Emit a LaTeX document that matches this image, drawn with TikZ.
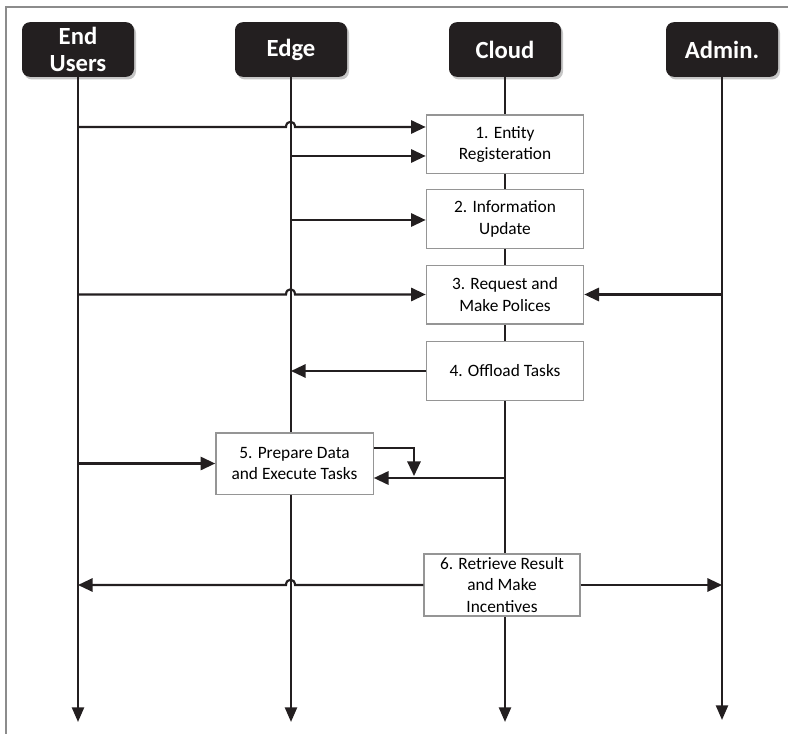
\documentclass[tikz,border=0pt]{standalone}
\usepackage{fontspec}
\setmainfont{Carlito}
\usetikzlibrary{arrows.meta,shadows}

\definecolor{headfill}{HTML}{231F20}
\definecolor{boxline}{HTML}{959595}
\definecolor{frameline}{HTML}{8C8C8C}

\tikzset{
  actor/.style={rounded corners=6pt, fill=headfill, text=white, align=center,
    minimum width=84pt, minimum height=41pt, inner sep=1pt,
    font=\fontsize{18.5}{20.5}\selectfont\bfseries,
    drop shadow={opacity=0.45, shadow xshift=1.5pt, shadow yshift=-2pt}},
  stepbox/.style={draw=boxline, line width=1pt, fill=white, align=center,
    minimum width=118pt, minimum height=44pt, inner sep=1pt,
    font=\fontsize{13}{16}\selectfont},
  life/.style={line width=1.8pt, headfill, -{Triangle[length=11pt,width=9pt]}},
  msg/.style={line width=1.6pt, headfill, -{Triangle[length=11pt,width=10pt]}}
}

\begin{document}
\begin{tikzpicture}[x=0.75pt, y=-0.75pt]
    \useasboundingbox (0,0) rectangle (788,734);

    % Marco
    \draw[frameline, line width=1.1pt] (6,734) -- (6,7) -- (788,7);

    % Actores
    \node[actor] (eu) at (78,49.5) {End\\Users};
    \node[actor] (edge) at (291,49.5) {Edge};
    \node[actor] (cloud) at (505,49.5) {Cloud};
    \node[actor] (admin) at (722,49.5) {Admin.};

    % Lineas de vida
    \draw[life] (eu.south) -- (eu.south |- 0,722);
    \draw[life] (edge.south) -- (edge.south |- 0,722);
    \draw[life] (cloud.south) -- (cloud.south |- 0,722);
    \draw[life] (admin.south) -- (admin.south |- 0,720);

    % Pasos
    \node[stepbox] (s1) at (505,144.5) {1. Entity\\Registeration};
    \node[stepbox] (s2) at (505,219) {2. Information\\Update};
    \node[stepbox] (s3) at (505,294.5) {3. Request and\\Make Polices};
    \node[stepbox] (s4) at (505,371) {4. Offload Tasks};
    \node[stepbox, minimum height=46pt] (s5) at (294.5,463.5) {5. Prepare Data\\and Execute Tasks};
    \node[stepbox, minimum width=117pt, minimum height=46.5pt] (s6) at (502,585) {6. Retrieve Result\\and Make\\Incentives};

    % Mensajes
    % Registro
    \draw[msg] (eu |- 0,127) -- (286,127) .. controls (286,120) and (295,120) .. (295,127) -- (s1.west |- 0,127);
    \draw[msg] (edge |- 0,156) -- (s1.west |- 0,156);
    % Actualizacion
    \draw[msg] (edge |- 0,220) -- (s2.west |- 0,220);
    % Politicas
    \draw[msg] (eu |- s3.west) -- (286,294.5) .. controls (286,287.5) and (295,287.5) .. (295,294.5) -- (s3.west);
    \draw[msg] (admin |- s3.east) -- (s3.east);
    % Tareas
    \draw[msg] (s4.west) -- (edge |- s4.west);
    \draw[msg] (eu |- s5.west) -- (s5.west);
    \draw[msg] (s5.east |- 0,448) -- (414,448) -- (414,476);
    \draw[msg] (cloud |- 0,478) -- (s5.east |- 0,478);
    % Resultados
    \draw[msg] (s6.west) -- (295,585) .. controls (295,578) and (286,578) .. (286,585) -- (eu |- s6.west);
    \draw[msg] (s6.east) -- (admin |- s6.east);
\end{tikzpicture}
\end{document}
